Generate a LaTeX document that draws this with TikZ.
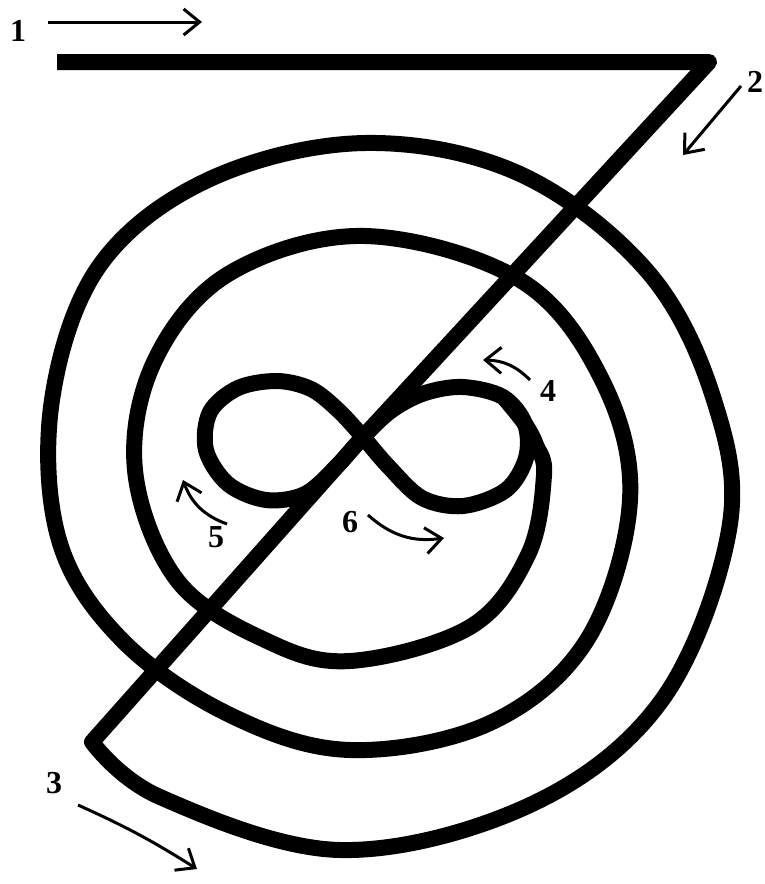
\documentclass[tikz,border=0pt]{standalone}
\usepackage{fontspec}
\setmainfont{Liberation Serif}
\usetikzlibrary{arrows.meta}

\begin{document}
\begin{tikzpicture}[x=1pt, y=-1pt,
  stroke/.style={line width=16pt, line join=round},
  lbl/.style={font=\fontsize{32}{32}\selectfont\bfseries, inner sep=0pt},
  dirarrow/.style={line width=3pt, -{Straight Barb[length=16pt, width=26pt]}}]
\useasboundingbox (0,0) rectangle (765,884);

% Bar, diagonal and spiral (one stroke)
\draw[stroke] (57,62) -- (709,62) -- (363,437) -- plot[smooth, tension=0.6] coordinates {
  (92,742) (160,797) (340,850) (530,805) (662,700) (729,530) (714,400) (648,272)
  (520,174) (365,143) (210,179) (100,265) (52,400) (59,540) (122,640) (230,715)
  (350,750) (490,723) (587,640) (630,500) (602,380) (520,280) (365,236) (230,273)
  (155,360) (135,470) (177,580) (265,640) (350,661) (470,627) (528,555) (544,475)
  (536,445) (525,424) (505,399)};

% Figure eight in the centre
\draw[stroke] plot[smooth cycle, tension=0.55] coordinates {
  (363,437) (392,410) (425,393) (463,387) (503,397) (525,424) (526,458) (506,490)
  (463,506) (422,498) (388,466) (363,437) (338,410) (311,389) (277,381) (238,388)
  (210,412) (206,450) (228,484) (266,500) (305,494) (337,466)};

% Numbered direction arrows
\node[lbl] (n1) at (18,31) {1};
\coordinate (a1s) at (48,22);  \coordinate (a1e) at (202,22);
\draw[dirarrow] (a1s) -- (a1e);

\node[lbl] (n2) at (755,82) {2};
\coordinate (a2s) at (741,86); \coordinate (a2e) at (683,155);
\draw[dirarrow] (a2s) -- (a2e);

\node[lbl] (n3) at (54,783) {3};
\coordinate (a3s) at (78,805); \coordinate (a3e) at (197,869);
\draw[dirarrow] (a3s) to[bend left=4] (a3e);

\node[lbl] (n4) at (548,391) {4};
\coordinate (a4s) at (530,380); \coordinate (a4e) at (483,360);
\draw[dirarrow] (a4s) to[bend right=22] (a4e);

\node[lbl] (n5) at (216,537) {5};
\coordinate (a5s) at (227,524); \coordinate (a5e) at (183,480);
\draw[dirarrow] (a5s) to[bend left=25] (a5e);

\node[lbl] (n6) at (350,522) {6};
\coordinate (a6s) at (368,515); \coordinate (a6e) at (444,538);
\draw[dirarrow] (a6s) to[bend right=25] (a6e);
\end{tikzpicture}
\end{document}
